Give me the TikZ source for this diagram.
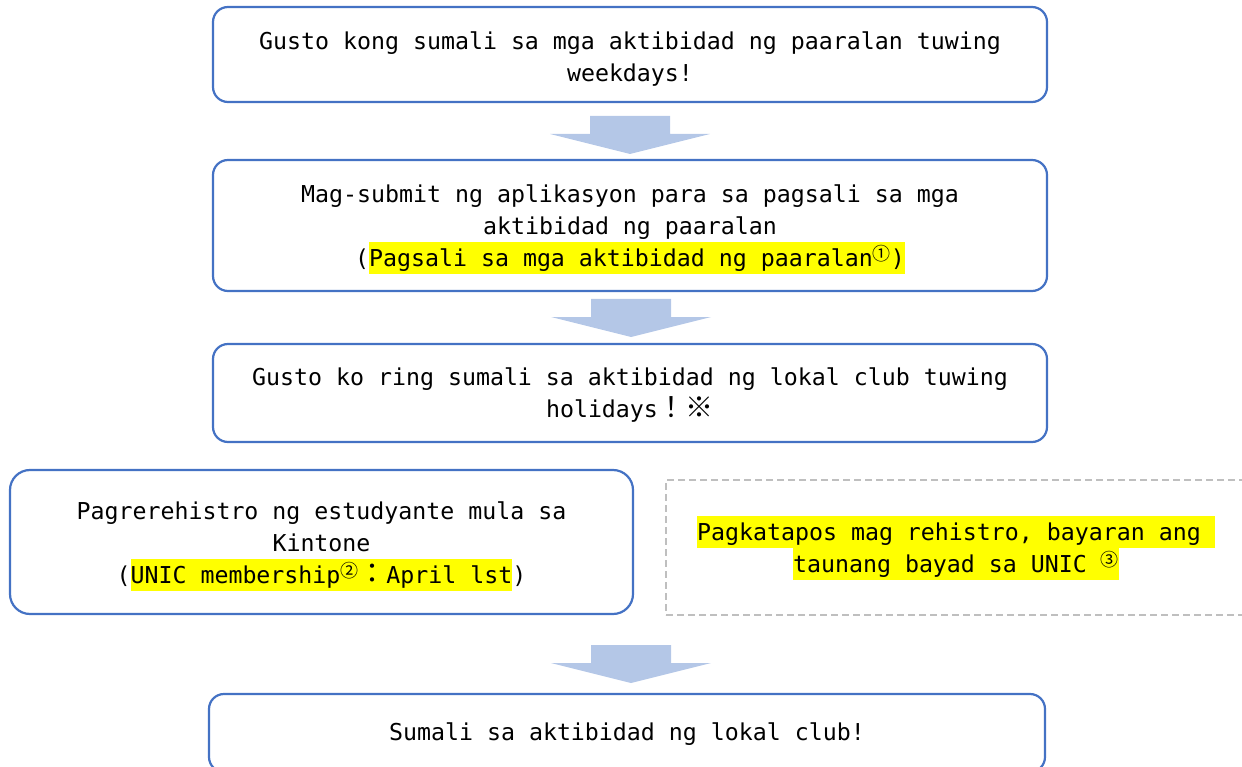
\documentclass[tikz,border=0pt]{standalone}
\usepackage{fontspec}
\setmainfont{DejaVu Sans Mono}
\newfontfamily\cjk{Noto Sans CJK JP}
\definecolor{bord}{HTML}{4472C4}
\definecolor{arr}{HTML}{B4C7E7}
\definecolor{dashc}{HTML}{BFBFBF}
\definecolor{hlc}{HTML}{FFFF00}
\newcommand\hl[1]{{\setlength{\fboxsep}{0pt}\colorbox{hlc}{\rule[-7pt]{0pt}{32pt}#1}}}
\newcommand\fw[1]{{\fontsize{28}{32}\cjk #1}}
\newcommand\circnum[1]{\raisebox{6pt}{\fontsize{18}{18}\cjk #1}}
\newcommand\topstrut[1]{\rule{0pt}{#1}}
\tikzset{
  stepbox/.style={draw=bord, line width=2.2pt, rounded corners=15pt, fill=white,
    align=center, inner sep=0pt, font=\fontsize{23.25}{32}\selectfont},
  dashbox/.style={draw=dashc, line width=1.3pt, dash pattern=on 7pt off 4pt,
    align=center, inner sep=0pt, font=\fontsize{23.25}{32}\selectfont},
  blockarrow/.style={fill=arr, draw=none}
}
\newcommand\downarrowat[2]{%
  \fill[blockarrow] (#1-40,#2) -- (#1+40,#2) -- (#1+40,#2+18) -- (#1+80,#2+18)
    -- (#1,#2+38) -- (#1-80,#2+18) -- (#1-40,#2+18) -- cycle;}
\begin{document}
\begin{tikzpicture}[x=1pt,y=-1pt]
\useasboundingbox (0,0) rectangle (1242,767);
\node[stepbox, minimum width=834pt, minimum height=95pt] (b1) at (630,54.5)
  {\topstrut{26pt}Gusto kong sumali sa mga aktibidad ng paaralan tuwing\\weekdays!};
\node[stepbox, minimum width=834pt, minimum height=131pt] (b2) at (630,225.5)
  {\topstrut{26pt}Mag-submit ng aplikasyon para sa pagsali sa mga\\aktibidad ng paaralan\\(\hl{Pagsali sa mga aktibidad ng paaralan\circnum{①})}};
\node[stepbox, minimum width=834pt, minimum height=98pt] (b3) at (630,393)
  {\topstrut{22pt}Gusto ko ring sumali sa aktibidad ng lokal club tuwing\\holidays\fw{！※}};
\node[stepbox, rounded corners=20pt, minimum width=623pt, minimum height=144pt] (b4) at (321.5,542)
  {\topstrut{26pt}Pagrerehistro ng estudyante mula sa\\Kintone\\(\hl{UNIC membership\circnum{②}\fw{：}April lst})};
\node[dashbox, minimum width=580pt, minimum height=135pt] (b6) at (956,547.5)
  {\hl{Pagkatapos mag rehistro, bayaran ang }\\\hl{taunang bayad sa UNIC \circnum{③}}};
\node[stepbox, minimum width=836pt, minimum height=78pt] (b5) at (627,733)
  {\topstrut{20pt}Sumali sa aktibidad ng lokal club!};
\downarrowat{630}{116}
\downarrowat{631}{299}
\downarrowat{631}{645}
\end{tikzpicture}
\end{document}
